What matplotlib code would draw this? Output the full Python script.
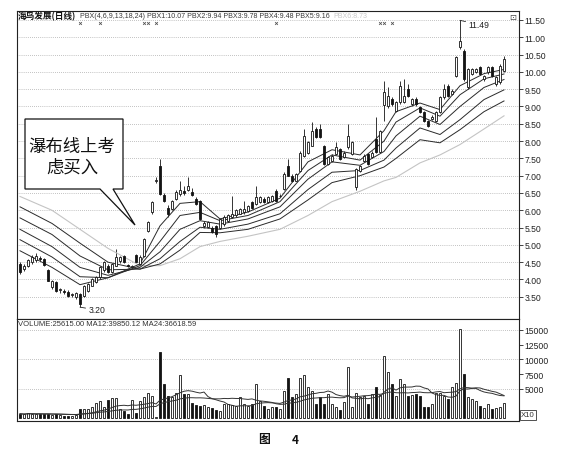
import matplotlib
matplotlib.use("Agg")
import matplotlib.pyplot as plt
from matplotlib.patches import Polygon
from matplotlib import font_manager
import numpy as np
import pandas as pd

plt.rcParams['font.family'] = ['Noto Sans CJK SC', 'DejaVu Sans']

# ---------------- data ----------------
opens = [4.45, 4.30, 4.40, 4.50, 4.55, 4.62, 4.59, 4.26, 3.77, 3.92,
         3.70, 3.68, 3.65, 3.55, 3.49, 3.58, 3.53, 3.68, 3.82, 3.92,
         4.06, 4.26, 4.40, 4.21, 4.40, 4.52, 4.67, 4.42, 4.36, 4.71,
         4.45, 4.69, 5.41, 5.94, 6.85, 7.29, 6.45, 6.08, 6.05, 6.33,
         6.47, 6.57, 6.60, 6.52, 6.33, 6.28, 5.55, 5.52, 5.50, 5.55,
         5.50, 5.60, 5.70, 5.80, 5.85, 5.90, 5.94, 5.99, 6.23, 6.18,
         6.23, 6.33, 6.23, 6.28, 6.57, 6.40, 6.62, 7.29, 7.00, 6.86,
         7.15, 7.58, 7.67, 7.87, 8.35, 8.35, 7.87, 7.34, 7.43, 7.63,
         7.77, 7.53, 7.82, 7.63, 6.66, 7.15, 7.43, 7.63, 7.53, 8.06,
         7.68, 9.03, 9.00, 9.22, 8.88, 9.12, 9.12, 9.51, 9.07, 9.22,
         8.98, 8.83, 8.59, 8.64, 8.59, 8.83, 9.27, 9.60, 9.36, 9.89,
         10.71, 10.61, 9.56, 9.94, 10.01, 10.13, 9.80, 9.99, 10.13, 9.65,
         9.70, 10.04]
highs = [4.50, 4.45, 4.60, 4.70, 4.77, 4.68, 4.62, 4.30, 3.99, 3.95,
         3.76, 3.72, 3.70, 3.62, 3.63, 3.62, 3.85, 3.90, 4.05, 4.10,
         4.38, 4.52, 4.45, 4.48, 4.88, 4.68, 4.72, 4.45, 4.42, 4.75,
         4.70, 5.20, 5.70, 6.28, 6.95, 7.48, 6.50, 6.15, 6.30, 6.60,
         6.86, 6.70, 6.95, 6.65, 6.38, 6.30, 5.68, 5.70, 5.55, 5.58,
         5.78, 5.85, 5.88, 6.42, 6.05, 6.08, 6.28, 6.15, 6.26, 6.71,
         6.40, 6.38, 6.40, 6.45, 6.62, 6.48, 7.10, 7.48, 7.05, 7.08,
         7.70, 8.35, 8.00, 8.54, 8.40, 8.50, 7.90, 7.58, 7.62, 7.96,
         7.80, 7.70, 8.50, 8.00, 7.22, 7.32, 7.62, 7.66, 7.70, 8.70,
         8.32, 9.75, 9.55, 9.28, 9.15, 9.75, 9.80, 9.65, 9.25, 9.26,
         9.02, 8.86, 8.62, 8.75, 8.88, 9.30, 9.65, 9.65, 9.50, 10.45,
         11.49, 10.65, 10.12, 10.12, 10.12, 10.18, 9.92, 10.18, 10.18, 9.88,
         10.22, 10.45]
lows = [4.15, 4.25, 4.35, 4.45, 4.50, 4.52, 4.38, 3.95, 3.72, 3.65,
        3.62, 3.58, 3.50, 3.50, 3.45, 3.20, 3.48, 3.65, 3.80, 3.90,
        4.02, 4.22, 4.18, 4.18, 4.38, 4.48, 4.48, 4.36, 4.33, 4.48,
        4.43, 4.65, 5.38, 5.90, 6.80, 6.45, 6.25, 5.80, 6.00, 6.30,
        6.42, 6.45, 6.55, 6.40, 6.15, 5.72, 5.50, 5.48, 5.33, 5.22,
        5.45, 5.55, 5.65, 5.78, 5.80, 5.88, 5.90, 5.95, 6.05, 6.15,
        6.20, 6.20, 6.20, 6.25, 6.25, 6.38, 6.58, 6.98, 6.82, 6.84,
        7.10, 7.55, 7.62, 7.85, 8.08, 8.08, 7.30, 7.30, 7.40, 7.60,
        7.45, 7.50, 7.78, 7.60, 6.60, 7.12, 7.40, 7.32, 7.50, 7.65,
        7.65, 8.59, 8.95, 9.02, 8.85, 9.08, 9.10, 9.28, 9.02, 9.02,
        8.80, 8.55, 8.40, 8.60, 8.55, 8.80, 9.22, 9.28, 9.33, 9.85,
        10.65, 9.75, 9.50, 9.90, 9.98, 9.90, 9.75, 9.95, 9.85, 9.60,
        9.65, 10.00]
closes = [4.21, 4.40, 4.55, 4.64, 4.69, 4.58, 4.42, 3.97, 3.95, 3.68,
          3.72, 3.63, 3.53, 3.58, 3.60, 3.29, 3.82, 3.87, 4.01, 4.06,
          4.35, 4.50, 4.22, 4.45, 4.64, 4.64, 4.50, 4.40, 4.38, 4.50,
          4.66, 5.17, 5.65, 6.23, 6.88, 6.47, 6.28, 5.89, 6.27, 6.52,
          6.60, 6.50, 6.70, 6.45, 6.18, 5.75, 5.62, 5.65, 5.36, 5.32,
          5.75, 5.80, 5.85, 5.90, 6.00, 6.04, 6.04, 6.13, 6.08, 6.37,
          6.37, 6.23, 6.37, 6.42, 6.28, 6.42, 7.05, 7.00, 6.86, 7.05,
          7.67, 8.16, 7.96, 8.30, 8.11, 8.11, 7.34, 7.53, 7.58, 7.82,
          7.48, 7.67, 8.16, 7.96, 7.19, 7.29, 7.58, 7.34, 7.67, 7.68,
          8.30, 9.41, 9.30, 9.07, 9.12, 9.60, 9.31, 9.31, 9.22, 9.07,
          8.83, 8.59, 8.45, 8.69, 8.83, 9.27, 9.51, 9.31, 9.46, 10.42,
          10.90, 9.80, 10.08, 10.08, 10.08, 9.94, 9.89, 10.13, 9.89, 9.84,
          10.18, 10.37]
volumes = [800, 700, 900, 800, 700, 800, 700, 800, 600, 700,
           600, 500, 500, 500, 600, 1600, 1600, 1600, 1900, 2700,
           2900, 1900, 3100, 3400, 3400, 1600, 1200, 700, 3100, 1000,
           2900, 3700, 4400, 3800, 300, 11200, 5800, 3800, 3700, 4400,
           7300, 4100, 4100, 2700, 2300, 2100, 2300, 1900, 1750, 1400,
           1200, 2400, 2400, 2300, 2100, 3600, 2400, 2100, 2400, 5900,
           3000, 2100, 1600, 1900, 2000, 1600, 4700, 6800, 3600, 4100,
           6800, 7300, 5300, 4700, 2400, 3600, 2400, 4200, 2400, 1900,
           1400, 2800, 8800, 2000, 4400, 3700, 3800, 2400, 4100, 5300,
           4000, 10600, 7800, 5800, 3800, 6700, 5800, 3800, 4000, 4200,
           3800, 1900, 1900, 2400, 4400, 4400, 3800, 3300, 5300, 6100,
           15100, 7600, 3700, 3300, 3000, 2100, 1750, 2400, 1600, 1750,
           1900, 2560]

# waterfall lines (PBX), read at sample candles
pbx_idx = [0, 8, 15, 22, 30, 35, 40, 45, 50, 57, 65, 72, 78, 85, 91, 94, 100, 105, 110, 116, 121]
pbx1 = [4.83, 4.35, 3.85, 4.05, 4.45, 5.55, 6.20, 6.25, 5.75, 5.95, 6.35, 7.40, 7.75, 7.60, 8.30, 8.85, 9.10, 8.91, 9.60, 9.95, 10.07]
pbx2 = [5.15, 4.65, 4.08, 4.05, 4.40, 5.10, 5.85, 5.94, 5.70, 5.85, 6.25, 7.15, 7.60, 7.45, 8.00, 8.55, 8.96, 8.72, 9.34, 9.80, 9.94]
pbx3 = [5.45, 4.95, 4.35, 4.12, 4.35, 4.80, 5.45, 5.70, 5.60, 5.75, 6.10, 6.90, 7.40, 7.30, 7.70, 8.15, 8.72, 8.48, 9.00, 9.55, 9.78]
pbx4 = [5.78, 5.30, 4.68, 4.28, 4.30, 4.60, 5.10, 5.51, 5.45, 5.60, 5.90, 6.60, 7.10, 7.15, 7.45, 7.80, 8.38, 8.19, 8.62, 9.20, 9.48]
pbx5 = [6.10, 5.62, 5.05, 4.50, 4.30, 4.45, 4.85, 5.36, 5.35, 5.45, 5.75, 6.30, 6.80, 7.00, 7.25, 7.50, 8.04, 7.95, 8.33, 8.85, 9.16]
pbx6 = [6.40, 6.00, 5.45, 4.90, 4.40, 4.40, 4.60, 4.95, 5.10, 5.25, 5.45, 5.85, 6.25, 6.55, 6.85, 6.95, 7.37, 7.60, 7.90, 8.35, 8.73]

header_name = '海鸟发展(日线)'
header_pbx = 'PBX(4,6,9,13,18,24) PBX1:10.07 PBX2:9.94 PBX3:9.78 PBX4:9.48 PBX5:9.16'
header_pbx6 = 'PBX6:8.73'
vol_header = 'VOLUME:25615.00 MA12:39850.12 MA24:36618.59'
price_ticks = [3.5, 4.0, 4.5, 5.0, 5.5, 6.0, 6.5, 7.0, 7.5, 8.0, 8.5, 9.0, 9.5, 10.0, 10.5, 11.0, 11.5]
vol_ticks = [5000, 7500, 10000, 12500, 15000]
vol_grid = [5000, 10000, 15000]
mark_idx = [15, 20, 31, 32, 34, 64, 90, 91, 93]
callout_text = '瀑布线上考\n虑买入'
caption_a = '图'
caption_b = '4'

# ---------------- layout ----------------
W, H = 562, 452
fig = plt.figure(figsize=(W / 100, H / 100), dpi=100)
fig.patch.set_facecolor('white')
renderer = fig.canvas.get_renderer()


def rect(x0, y0, x1, y1):
    return [x0 / W, 1 - y1 / H, (x1 - x0) / W, (y1 - y0) / H]


def fx(px):
    return px / W


def fy(py):
    return 1 - py / H


names = {f.name for f in font_manager.fontManager.ttflist}
if 'Liberation Sans Narrow' in names:
    narrow = ['Liberation Sans Narrow', 'DejaVu Sans']
    tick_size, head_size, vol_size = 6.8, 5.8, 6.3
elif 'Liberation Sans' in names:
    narrow = ['Liberation Sans', 'DejaVu Sans']
    tick_size, head_size, vol_size = 6.2, 5.1, 5.5
else:
    narrow = ['DejaVu Sans']
    tick_size, head_size, vol_size = 5.8, 4.8, 5.2

ax = fig.add_axes(rect(17, 12, 519, 320))
axv = fig.add_axes(rect(17, 320, 519, 422))

n = len(closes)
x = np.arange(n)
o = np.array(opens)
c = np.array(closes)
hi = np.array(highs)
lo = np.array(lows)
up = c >= o
ink = '#141414'

# ---------------- price panel ----------------
ax.set_xlim(-0.75, 124.75)
ax.set_ylim(2.858, 11.76)
for t in price_ticks:
    ax.axhline(t, color='#8a8a8a', lw=0.5, ls=(0, (1, 2)), zorder=1)

ax.vlines(x, lo, hi, color=ink, lw=0.6, zorder=2)
bb = np.minimum(o, c)
bh = np.maximum(np.abs(c - o), 0.025)
ax.bar(x[up], bh[up], bottom=bb[up], width=0.72, facecolor='white',
       edgecolor=ink, linewidth=0.6, zorder=3)
ax.bar(x[~up], bh[~up], bottom=bb[~up], width=0.72, facecolor=ink,
       edgecolor=ink, linewidth=0.6, zorder=3)

ax.plot(pbx_idx, pbx6, color='#c4c4c4', lw=0.8, zorder=2)
for line in (pbx5, pbx4, pbx3, pbx2, pbx1):
    ax.plot(pbx_idx, line, color='#2a2a2a', lw=0.7, zorder=2)

ax.plot(mark_idx, [11.42] * len(mark_idx), ls='none', marker='x', ms=2,
        mew=0.6, color='#555', zorder=4)

imax = int(np.argmax(hi))
ax.annotate(f'{hi[imax]:.2f}', xy=(imax, hi[imax]), xytext=(6, -3),
            textcoords='offset points', fontsize=tick_size, family=narrow,
            color='#222', va='center', ha='left',
            arrowprops=dict(arrowstyle='-', lw=0.6, color='#222',
                            shrinkA=0, shrinkB=0))
imin = int(np.argmin(lo))
ax.annotate(f'{lo[imin]:.2f}', xy=(imin, lo[imin]), xytext=(6, -2),
            textcoords='offset points', fontsize=tick_size, family=narrow,
            color='#222', va='center', ha='left',
            arrowprops=dict(arrowstyle='-', lw=0.6, color='#222',
                            shrinkA=0, shrinkB=0))

ax.yaxis.tick_right()
ax.set_yticks(price_ticks)
ax.set_yticklabels([f'{t:.2f}' for t in price_ticks], family=narrow)
ax.tick_params(axis='y', direction='out', length=3, width=0.6, pad=1,
               labelsize=tick_size, colors='#222')
ax.set_xticks([])
for s in ax.spines.values():
    s.set_linewidth(0.8)
    s.set_color('#222')

# ---------------- volume panel ----------------
vols = np.array(volumes, dtype=float)
axv.set_xlim(-0.75, 124.75)
axv.set_ylim(-424, 16864)
for t in vol_grid:
    axv.axhline(t, color='#8a8a8a', lw=0.5, ls=(0, (1, 2)), zorder=1)
axv.bar(x[up], vols[up], width=0.72, facecolor='white', edgecolor=ink,
        linewidth=0.6, zorder=3)
axv.bar(x[~up], vols[~up], width=0.72, facecolor=ink, edgecolor=ink,
        linewidth=0.6, zorder=3)
vs = pd.Series(vols)
axv.plot(x, vs.rolling(12, min_periods=1).mean(), color='#333', lw=0.7, zorder=4)
axv.plot(x, vs.rolling(24, min_periods=1).mean(), color='#333', lw=0.7, zorder=4)
axv.yaxis.tick_right()
axv.set_yticks(vol_ticks)
axv.set_yticklabels([str(t) for t in vol_ticks], family=narrow)
axv.tick_params(axis='y', direction='out', length=3, width=0.6, pad=1,
                labelsize=tick_size, colors='#222')
axv.set_xticks([])
for s in axv.spines.values():
    s.set_linewidth(0.8)
    s.set_color('#222')

# ---------------- texts ----------------
fig.text(fx(18), fy(16), header_name, fontsize=6.2, color='#111',
         weight='bold', ha='left', va='center')
tp = fig.text(fx(80), fy(16), header_pbx, fontsize=head_size, family=narrow,
              color='#3a3a3a', ha='left', va='center')
x_end = tp.get_window_extent(renderer=renderer).x1
fig.text(x_end / W + fx(4), fy(16), header_pbx6, fontsize=head_size,
         family=narrow, color='#c8c8c8', ha='left', va='center')
fig.text(fx(513), fy(17), '⊡', fontsize=6, color='#444', va='center',
         ha='center', family=['DejaVu Sans'])
fig.text(fx(18), fy(325), vol_header, fontsize=vol_size, family=narrow,
         color='#333', ha='left', va='center')
fig.text(fx(528), fy(416), 'X10', fontsize=5.6, color='#333',
         va='center', ha='center', family=narrow,
         bbox=dict(boxstyle='square,pad=0.15', fc='white', ec='#333', lw=0.6))
fig.text(fx(264), fy(440), caption_a, fontsize=8.5, weight='bold',
         color='#111', va='center', ha='center')
fig.text(fx(295), fy(441), caption_b, fontsize=8.5, weight='bold',
         color='#111', va='center', ha='center')

# callout box with pointer
pts = [(25, 120), (123, 120), (123, 190), (113, 190), (135, 226),
       (100, 190), (25, 190)]
poly = Polygon([(fx(px), fy(py)) for px, py in pts], closed=True,
               transform=fig.transFigure, facecolor='white', edgecolor='#111',
               linewidth=0.9, zorder=10)
fig.patches.append(poly)
fig.text(fx(72), fy(157), callout_text, fontsize=12.5, color='#111',
         ha='center', va='center', linespacing=1.2, zorder=11)

fig.savefig('out.png', dpi=100, facecolor='white')
